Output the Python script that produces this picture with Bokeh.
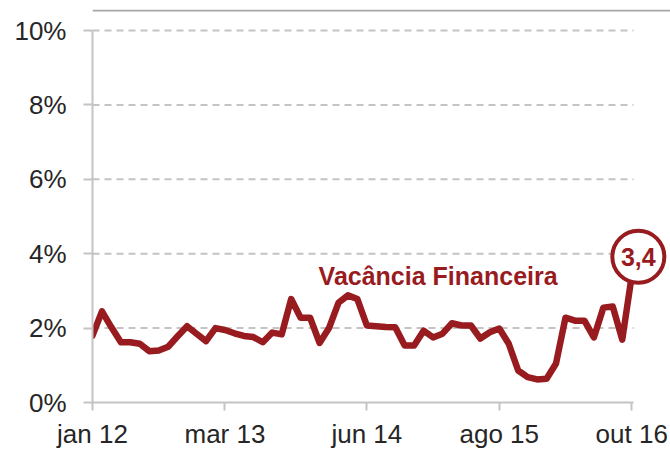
from bokeh.plotting import figure
from bokeh.models import FixedTicker, Range1d, Span, ColumnDataSource, Label
from bokeh.transform import dodge
from bokeh.core.properties import value
from bokeh.embed import file_html
from bokeh.resources import INLINE

# Monthly values, jan 2012 .. out 2016 (%)
vacancia = [1.80, 2.45, 2.02, 1.62, 1.62, 1.58, 1.38, 1.40, 1.50, 1.78, 2.05, 1.85, 1.65, 2.00,
            1.95, 1.86, 1.79, 1.76, 1.62, 1.88, 1.83, 2.78, 2.28, 2.28, 1.60, 2.00, 2.68, 2.88,
            2.78, 2.07, 2.05, 2.03, 2.02, 1.53, 1.53, 1.93, 1.75, 1.85, 2.13, 2.07, 2.07, 1.72,
            1.89, 1.99, 1.58, 0.86, 0.68, 0.62, 0.64, 1.05, 2.28, 2.20, 2.20, 1.75, 2.55, 2.58,
            1.69, 3.40]
months = list(range(len(vacancia)))
tick_positions = [0, 14, 29, 43, 57]
tick_labels = ["jan 12", "mar 13", "jun 14", "ago 15", "out 16"]
y_ticks = [0, 2, 4, 6, 8, 10]
grid_levels = [2, 4, 6, 8, 10]
series_name = "Vacância Financeira"
last_label = "3,4"

RED = "#981b1f"
GRAY = "#c4c4c4"
FONT = "Liberation Sans"
X_END = 57.2   # where the x axis and grid stop

p = figure(frame_width=578, frame_height=393, output_backend="svg", toolbar_location=None,
           x_range=Range1d(0, 61.1), y_range=Range1d(0, 10.565),
           min_border_left=92, min_border_right=0, min_border_top=9, min_border_bottom=0)
p.outline_line_color = None
p.background_fill_color = "white"
p.border_fill_color = "white"
p.xgrid.grid_line_color = None
p.ygrid.grid_line_color = None

# dashed gridlines stopping at the end of the x axis
p.segment(x0=[0] * len(grid_levels), x1=[X_END] * len(grid_levels), y0=grid_levels,
          y1=grid_levels, line_color=GRAY, line_width=2, line_dash="7 5")

# thin rule at the very top
p.add_layout(Span(location=10.535, dimension="width", line_color="#a6a6a6", line_width=2))

p.line(months, vacancia, line_color=RED, line_width=6.5, line_join="round", line_cap="round")

# highlighted last value in a circle
last = ColumnDataSource(dict(x=[months[-1]], y=[vacancia[-1]], label=[last_label]))
p.scatter(x=dodge("x", 0.7, range=p.x_range), y=dodge("y", 0.52, range=p.y_range), source=last,
          marker="circle", size=52, fill_color="white", line_color=RED, line_width=4)
p.text(x=dodge("x", 0.7, range=p.x_range), y=dodge("y", 0.52, range=p.y_range), text="label",
       source=last, text_font=value(FONT), text_font_size="25px", text_font_style="bold",
       text_color=RED, text_align="center", text_baseline="middle")

# axes
p.xaxis.ticker = FixedTicker(ticks=tick_positions)
p.xaxis.major_label_overrides = {t: l for t, l in zip(tick_positions, tick_labels)}
p.xaxis.bounds = (0, X_END)
p.yaxis.ticker = FixedTicker(ticks=y_ticks)
p.yaxis.major_label_overrides = {t: f"{t}%" for t in y_ticks}
p.yaxis.bounds = (0, 10)
for ax in (p.xaxis[0], p.yaxis[0]):
    ax.axis_line_color = GRAY
    ax.axis_line_width = 2
    ax.major_tick_line_color = GRAY
    ax.major_tick_line_width = 2
    ax.major_tick_in = 0
    ax.minor_tick_line_color = None
    ax.major_label_text_font = FONT
    ax.major_label_text_font_size = "26px"
    ax.major_label_text_color = "#262626"
p.xaxis.major_tick_out = 8
p.xaxis.major_label_standoff = 8
p.yaxis.major_tick_out = 9
p.yaxis.major_label_standoff = 17

p.add_layout(Label(x=23.9, y=3.4, text=series_name, text_font=FONT, text_font_size="25px",
                   text_font_style="bold", text_color=RED, text_baseline="alphabetic"))

open("out.html", "w").write(file_html(p, INLINE))
